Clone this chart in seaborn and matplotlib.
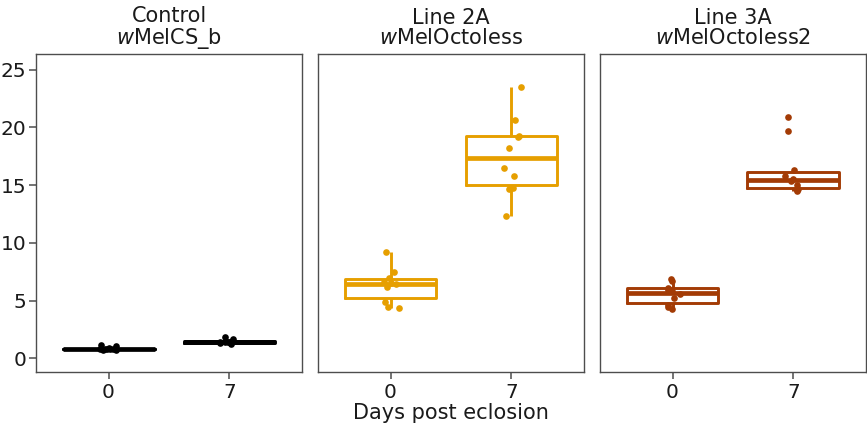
import numpy as np
import pandas as pd
import matplotlib
matplotlib.use("Agg")
import matplotlib.pyplot as plt
import seaborn as sns

# ---- data ----
panels = ["Control", "Line 2A", "Line 3A"]
strains = ["wMelCS_b", "wMelOctoless", "wMelOctoless2"]
days = ["0", "7"]
colors = ["#000000", "#E69F00", "#A33B05"]

control_d0 = [0.80, 0.78, 0.82, 0.85, 0.75, 1.05, 1.12, 0.72, 0.80, 0.77]
control_d7 = [1.40, 1.45, 1.50, 1.80, 1.70, 1.35, 1.30, 1.25, 1.45, 1.42]
line2a_d0 = [9.17, 7.47, 6.95, 6.60, 6.50, 6.40, 6.20, 4.87, 4.44, 4.35]
line2a_d7 = [23.5, 20.6, 19.25, 19.15, 18.2, 16.5, 15.8, 14.75, 14.65, 12.3]
line3a_d0 = [6.90, 6.66, 6.10, 5.90, 5.80, 5.55, 5.25, 4.60, 4.44, 4.30]
line3a_d7 = [20.9, 19.67, 16.3, 15.8, 15.5, 15.35, 15.0, 14.7, 14.55, 14.45]

values = {
    "Control": {"0": control_d0, "7": control_d7},
    "Line 2A": {"0": line2a_d0, "7": line2a_d7},
    "Line 3A": {"0": line3a_d0, "7": line3a_d7},
}

rows = []
for p in panels:
    for d in days:
        for v in values[p][d]:
            rows.append({"panel": p, "day": d, "value": v})
df = pd.DataFrame(rows)

# ---- figure ----
sns.set_style("white")
plt.rcParams["font.family"] = ["DejaVu Sans"]
plt.rcParams["mathtext.fontset"] = "dejavusans"

fig, axes = plt.subplots(1, 3, figsize=(8.67, 4.29), dpi=100, sharey=True)
fig.subplots_adjust(left=36 / 867, right=866 / 867, top=1 - 54 / 429,
                    bottom=1 - 372 / 429, wspace=0.06)

np.random.seed(3)
for ax, p, s, c in zip(axes, panels, strains, colors):
    sub = df[df["panel"] == p]
    sns.stripplot(data=sub, x="day", y="value", order=days, color=c,
                  jitter=0.08, size=4.8, linewidth=0, ax=ax, zorder=3)
    sns.boxplot(data=sub, x="day", y="value", order=days, color=c,
                fill=False, width=0.76, linewidth=2.1, showfliers=False,
                showcaps=False, whis=1.5,
                medianprops=dict(linewidth=3.4, color=c),
                boxprops=dict(color=c), whiskerprops=dict(color=c),
                ax=ax)
    ax.set_xlim(-0.6, 1.6)
    ax.set_ylim(-1.19, 26.36)
    ax.set_xlabel("")
    ax.set_ylabel("")
    ax.set_title(p + "\n" + r"$\mathit{w}$" + s[1:], fontsize=15,
                 pad=7, color="#1a1a1a", linespacing=1.0)
    for sp in ax.spines.values():
        sp.set_visible(True)
        sp.set_color("#4d4d4d")
        sp.set_linewidth(1.0)
    ax.tick_params(axis="x", bottom=True, length=5, width=1.1,
                   color="#4d4d4d", labelsize=14.5, labelcolor="#1a1a1a", pad=3)
    ax.tick_params(axis="y", left=(ax is axes[0]), length=5, width=1.1,
                   color="#4d4d4d", labelsize=14.5, labelcolor="#1a1a1a", pad=2)
    ax.set_yticks([0, 5, 10, 15, 20, 25])

fig.text((36 + 866) / 2 / 867, 1 - 419 / 429, "Days post eclosion",
         ha="center", va="baseline", fontsize=15, color="#1a1a1a")

fig.savefig("out.png", dpi=100)
